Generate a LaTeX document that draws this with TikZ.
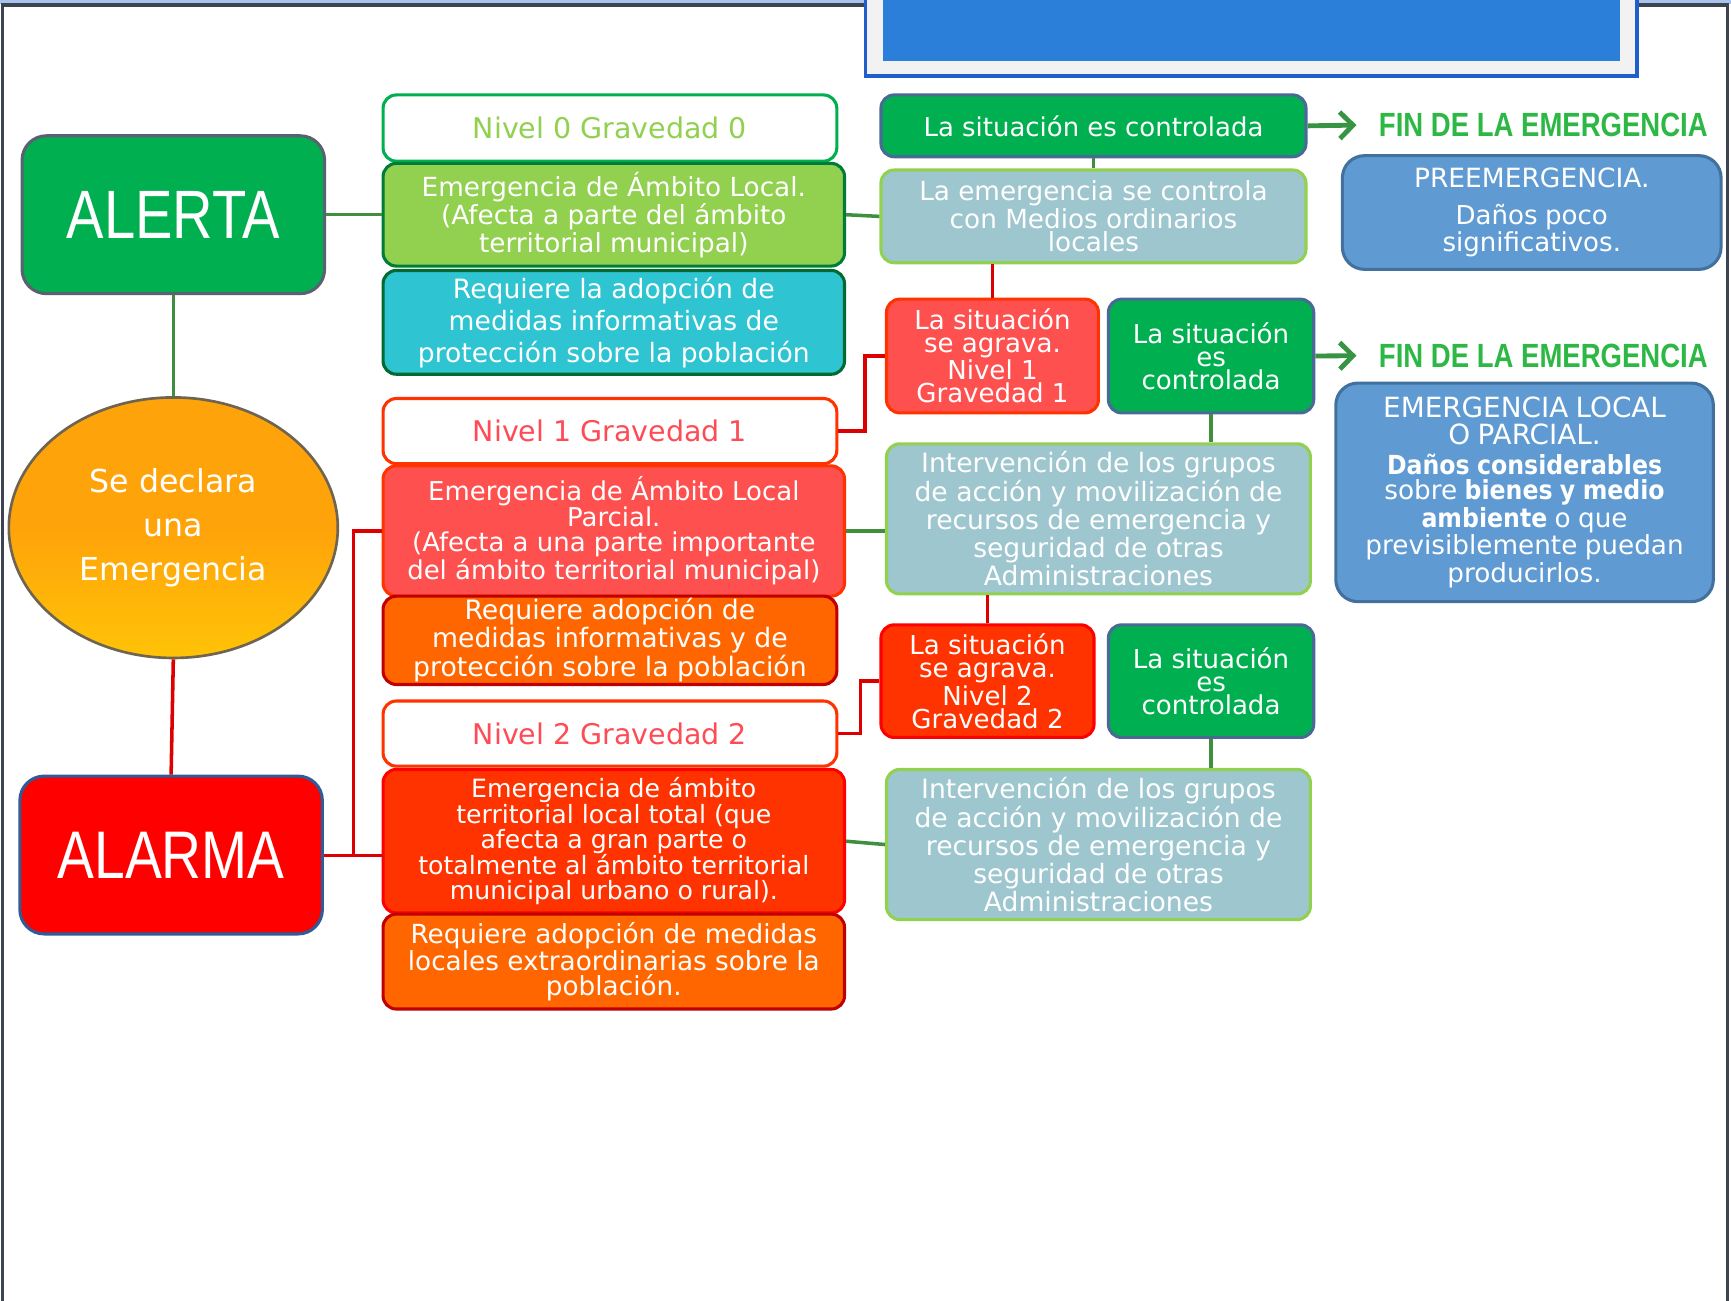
\documentclass[tikz,border=0pt]{standalone}
\usepackage{fontspec}
\setmainfont{DejaVu Sans}[BoldFeatures={FakeStretch=0.9}]
\newfontfamily\condfont[FakeStretch=0.82]{Liberation Sans}
\usepackage{xcolor}
\usetikzlibrary{arrows.meta,positioning,shapes.geometric}

\definecolor{verde}{HTML}{00B050}
\definecolor{verdeclaro}{HTML}{92D050}
\definecolor{pizarra}{HTML}{4A6A96}
\definecolor{cian}{HTML}{2EC4D2}
\definecolor{rojoclaro}{HTML}{FF5050}
\definecolor{rojovivo}{HTML}{FF3300}
\definecolor{naranja}{HTML}{FF6600}
\definecolor{granate}{HTML}{C00000}
\definecolor{gris}{HTML}{9EC6CF}
\definecolor{azul}{HTML}{5F9BD2}
\definecolor{azulborde}{HTML}{41719C}
\definecolor{lineaverde}{HTML}{3F8F3F}
\definecolor{linearoja}{HTML}{DD0000}
\definecolor{textonivel}{HTML}{FF4B55}
\definecolor{finverde}{HTML}{2DB845}
\definecolor{marco}{HTML}{3C4452}
\definecolor{franja}{HTML}{A8C4EC}
\definecolor{ellnar}{HTML}{FFA30A}
\definecolor{ellborde}{HTML}{6E6450}
\definecolor{bordealerta}{HTML}{5A6272}
\definecolor{bordealarma}{HTML}{2F5C98}
\definecolor{cabecera}{HTML}{2B7FD8}
\definecolor{cabborde}{HTML}{1F5FCC}

\begin{document}
\begin{tikzpicture}[x=0.5pt,y=-0.5pt,
 bx/.style={draw,rounded corners=6pt,line width=1.4pt,text=white,align=center,inner sep=0pt},
 wd/.style 2 args={minimum width=#1,minimum height=#2},
 nivel/.style={bx,fill=white,text=textonivel,draw=rojovivo,font=\fontsize{12.9}{14}\selectfont},
 ctrl/.style={bx,fill=verde,draw=pizarra},
 medio/.style={bx,fill=gris,draw=verdeclaro},
 fase/.style={bx,fill=azul,draw=azulborde,rounded corners=10pt},
 fin/.style={inner sep=0pt,text=finverde,font=\condfont\bfseries\fontsize{15.2}{15.2}\selectfont},
 lg/.style={line width=1.6pt,draw=lineaverde},
 lr/.style={line width=1.6pt,draw=linearoja},
 flecha/.style={line width=2.2pt,draw=lineaverde!85!verde,-{Straight Barb[length=6pt,width=12pt]},shorten >=10pt}]
\useasboundingbox (0,0) rectangle (1568,1178);
% marco de la diapositiva
\fill[franja] (0,0) rectangle (1568,4);
\draw[marco,line width=1.5pt] (2.5,1180) -- (2.5,4.5) -- (1565,4.5) -- (1565,1180);
\draw[line width=1.6pt,draw=cabborde,fill=black!5] (784,-6) rectangle (1483,69);
\fill[cabecera] (800,-6) rectangle (1467,55);

% columna izquierda
\node[bx,fill=verde,draw=bordealerta,rounded corners=11pt,wd={137pt}{71.5pt},font=\condfont\fontsize{31}{31}\selectfont] (alerta) at (157,194.5) {ALERTA};
\node[ellipse,draw=ellborde,line width=1.2pt,top color=ellnar,bottom color=ellnar!65!yellow,middle color=ellnar,text=white,align=center,wd={149pt}{118pt},inner sep=0pt,font=\fontsize{14.3}{20}\selectfont] (declara) at (157,478) {Se declara\\una\\Emergencia};
\node[bx,fill=red,draw=bordealarma,rounded corners=11pt,wd={137pt}{71.5pt},font=\condfont\fontsize{30.5}{30.5}\selectfont] (alarma) at (155,774.5) {ALARMA};

% nivel 0
\node[nivel,draw=verde,text=verdeclaro,wd={205.5pt}{30pt}] (n0) at (552.5,116) {Nivel 0 Gravedad 0};
\node[bx,fill=verdeclaro,draw=verde!70!black,wd={209pt}{46.5pt},font=\fontsize{11.9}{10.2}\selectfont] (e0) at (556,194.5) {Emergencia de Ámbito Local.\\(Afecta a parte del ámbito\\territorial municipal)};
\node[bx,fill=cian,draw=verde!60!black,wd={209pt}{47pt},font=\fontsize{12.05}{14.5}\selectfont] (r0) at (556,292) {Requiere la adopción de\\medidas informativas de\\protección sobre la población};
% nivel 1
\node[nivel,wd={205.5pt}{29.5pt}] (n1) at (552.5,390.5) {Nivel 1 Gravedad 1};
\node[bx,fill=rojoclaro,draw=rojovivo,wd={209pt}{59pt},font=\fontsize{11.75}{11.5}\selectfont] (e1) at (556,481) {Emergencia de Ámbito Local\\Parcial.\\(Afecta a una parte importante\\del ámbito territorial municipal)};
\node[bx,fill=naranja,draw=granate,wd={205.5pt}{40pt},font=\fontsize{12.1}{11.5}\selectfont] (r1) at (552.5,580) {Requiere adopción de\\medidas informativas y de\\protección sobre la población};
% nivel 2
\node[nivel,wd={205.5pt}{29.5pt}] (n2) at (552.5,664.5) {Nivel 2 Gravedad 2};
\node[bx,fill=rojovivo,draw=red,wd={209pt}{65pt},font=\fontsize{11.4}{11.6}\selectfont] (e2) at (556,762) {Emergencia de ámbito\\territorial local total (que\\afecta a gran parte o\\totalmente al ámbito territorial\\municipal urbano o rural).};
\node[bx,fill=naranja,draw=granate,wd={209pt}{43pt},font=\fontsize{11.9}{11.3}\selectfont] (r2) at (556,871) {Requiere adopción de medidas\\locales extraordinarias sobre la\\población.};

% columna de evolucion
\node[ctrl,wd={192.5pt}{28pt},font=\fontsize{11.75}{12}\selectfont] (c0) at (990.5,114) {La situación es controlada};
\node[medio,wd={192.5pt}{42pt},font=\fontsize{11.9}{10.5}\selectfont] (m0) at (990.5,196) {La emergencia se controla\\con Medios ordinarios\\locales};
\node[bx,fill=rojoclaro,draw=rojovivo,wd={96pt}{51.5pt},font=\fontsize{11.8}{10.4}\selectfont] (a1) at (899,322.5) {La situación\\se agrava.\\Nivel 1\\Gravedad 1};
\node[ctrl,wd={93pt}{51.5pt},font=\fontsize{11.8}{10.5}\selectfont] (s1) at (1097,322.5) {La situación\\es\\controlada};
\node[medio,wd={192pt}{68pt},font=\fontsize{12.05}{11.65}\selectfont] (i1) at (995,470) {Intervención de los grupos\\de acción y movilización de\\recursos de emergencia y\\seguridad de otras\\Administraciones};
\node[bx,fill=rojovivo,draw=red,wd={96.5pt}{51pt},font=\fontsize{11.8}{10.4}\selectfont] (a2) at (894.5,617) {La situación\\se agrava.\\Nivel 2\\Gravedad 2};
\node[ctrl,wd={93pt}{51pt},font=\fontsize{11.8}{10.5}\selectfont] (s2) at (1097,617) {La situación\\es\\controlada};
\node[medio,wd={192pt}{68pt},font=\fontsize{12.05}{11.65}\selectfont] (i2) at (995,765) {Intervención de los grupos\\de acción y movilización de\\recursos de emergencia y\\seguridad de otras\\Administraciones};

% fin de la emergencia
\node[fin] (fin0) at (1398,113) {FIN DE LA EMERGENCIA};
\node[fin] (fin1) at (1398,322) {FIN DE LA EMERGENCIA};
\node[fase,wd={171.5pt}{51.5pt},text width=165pt] (pre) at (1387.5,192.5) {{\fontsize{12}{12}\selectfont PREEMERGENCIA.\par}\vspace{6pt}{\fontsize{11.8}{10.5}\selectfont Daños poco\\significativos.\par}};
\node[fase,wd={171pt}{99pt},text width=165pt] (loc) at (1381,446) {{\fontsize{12.6}{12}\selectfont EMERGENCIA LOCAL\\O PARCIAL.\par}\vspace{3pt}{\fontsize{11.9}{11}\selectfont\textbf{Daños considerables}\\sobre \textbf{bienes y medio}\\\textbf{ambiente} o que\\previsiblemente puedan\\producirlos.\par}};

% conectores
\draw[lg] (alerta.south) -- (declara.north);
\draw[lr] (declara.south) -- (alarma.north);
\draw[lg] (alerta.east) -- (e0.west);
\coordinate (nudo) at (320,775);
\draw[lr] (alarma.east |- nudo) -- (nudo) |- (e1.west);
\draw[lr] (nudo) -- (e2.west |- nudo);
\draw[lg] (e0.east) -- (m0.west);
\draw[lg] (c0.south) -- (c0.south |- m0.north);
\draw[lr] (a1.north |- m0.south) -- (a1.north);
\draw[lr] (n1.east) -- ++(24,0) |- (a1.west);
\draw[lg] (s1.south) -- (s1.south |- i1.north);
\draw[lg] (e1.east) -- (e1.east -| i1.west);
\draw[lr] (a2.north |- i1.south) -- (a2.north);
\draw[lr] (n2.east) -- ++(20,0) |- (a2.west);
\draw[lg] (s2.south) -- (s2.south |- i2.north);
\draw[lg] (e2.east) -- (i2.west);
\draw[flecha] (c0.east) -- (fin0.west);
\draw[flecha] (s1.east) -- (fin1.west);
\end{tikzpicture}
\end{document}
